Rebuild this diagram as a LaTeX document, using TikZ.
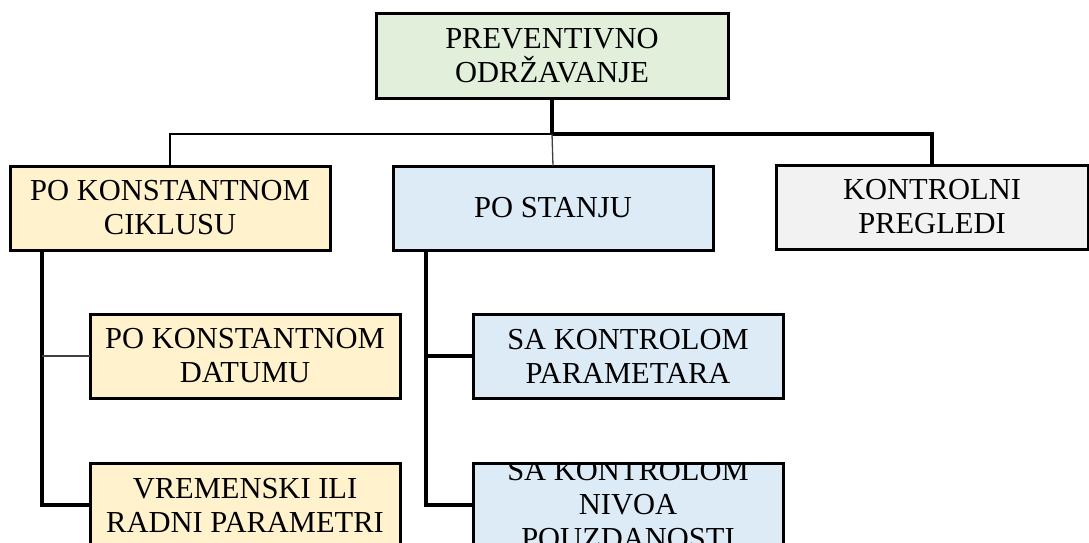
\documentclass[tikz,border=0pt]{standalone}
\usepackage{fontspec}
\setmainfont{Liberation Serif}
\definecolor{cgreen}{HTML}{E2EFDA}
\definecolor{cyellow}{HTML}{FFF2CC}
\definecolor{cblue}{HTML}{DDEBF7}
\definecolor{cgray}{HTML}{F2F2F2}
\tikzset{
  box/.style={draw=black, line width=3pt, inner sep=0pt, outer sep=0pt, align=center,
    font=\fontsize{30.5}{34}\selectfont, text=black},
  thickline/.style={line width=3.2pt},
  heavyline/.style={line width=4pt},
  medline/.style={line width=2pt},
  thinline/.style={line width=1.3pt, draw=black!75},
}
\begin{document}
\begin{tikzpicture}[x=1pt,y=-1pt]
\useasboundingbox (0,0) rectangle (1089,542);
% boxes (corners in px)
\node[box, fill=cgreen, minimum width=352pt, minimum height=85pt] (top) at (552,55.5) {PREVENTIVNO\\ODRŽAVANJE};
\node[box, fill=cyellow, minimum width=320pt, minimum height=84pt] (ciklus) at (170,208) {PO KONSTANTNOM\\CIKLUSU};
\node[box, fill=cblue, minimum width=320pt, minimum height=84pt] (stanju) at (553,208) {PO STANJU};
\node[box, fill=cgray, minimum width=312pt, minimum height=84pt] (pregledi) at (932,207) {KONTROLNI\\PREGLEDI};
\node[box, fill=cyellow, minimum width=310pt, minimum height=84pt] (datumu) at (245,356) {PO KONSTANTNOM\\DATUMU};
\node[box, fill=cyellow, minimum width=310pt, minimum height=84pt] (vremenski) at (245,505) {VREMENSKI ILI\\RADNI PARAMETRI};
\node[box, fill=cblue, minimum width=310pt, minimum height=84pt] (parametara) at (628,356) {SA KONTROLOM\\PARAMETARA};
\node[box, fill=cblue, minimum width=310pt, minimum height=84pt] (nivoa) at (628,505) {};
\begin{scope}
  \clip (nivoa.north west) rectangle (nivoa.south east);
  \node[align=center, font=\fontsize{30.5}{34}\selectfont, inner sep=0pt] (nivoatext) at (nivoa.center) {SA KONTROLOM\\NIVOA\\POUZDANOSTI};
\end{scope}
\draw[line width=3pt] (nivoa.north west) -- (nivoa.north east);
% junctions
\coordinate (j) at (552,134);
\coordinate (cl) at (42,250);
\coordinate (sl) at (426,250);
% connectors
\draw[thickline] (top.south) -- (j);
\draw[medline] (j) -| (ciklus.north);
\draw[heavyline] (j) -| (pregledi.north);
\draw[thinline] (j) -- (stanju.north);
\draw[thickline] (cl) |- (vremenski.west);
\draw[thinline] (cl |- datumu.west) -- (datumu.west);
\draw[thickline] (sl) |- (nivoa.west);
\draw[thickline] (sl |- parametara.west) -- (parametara.west);
\end{tikzpicture}
\end{document}
